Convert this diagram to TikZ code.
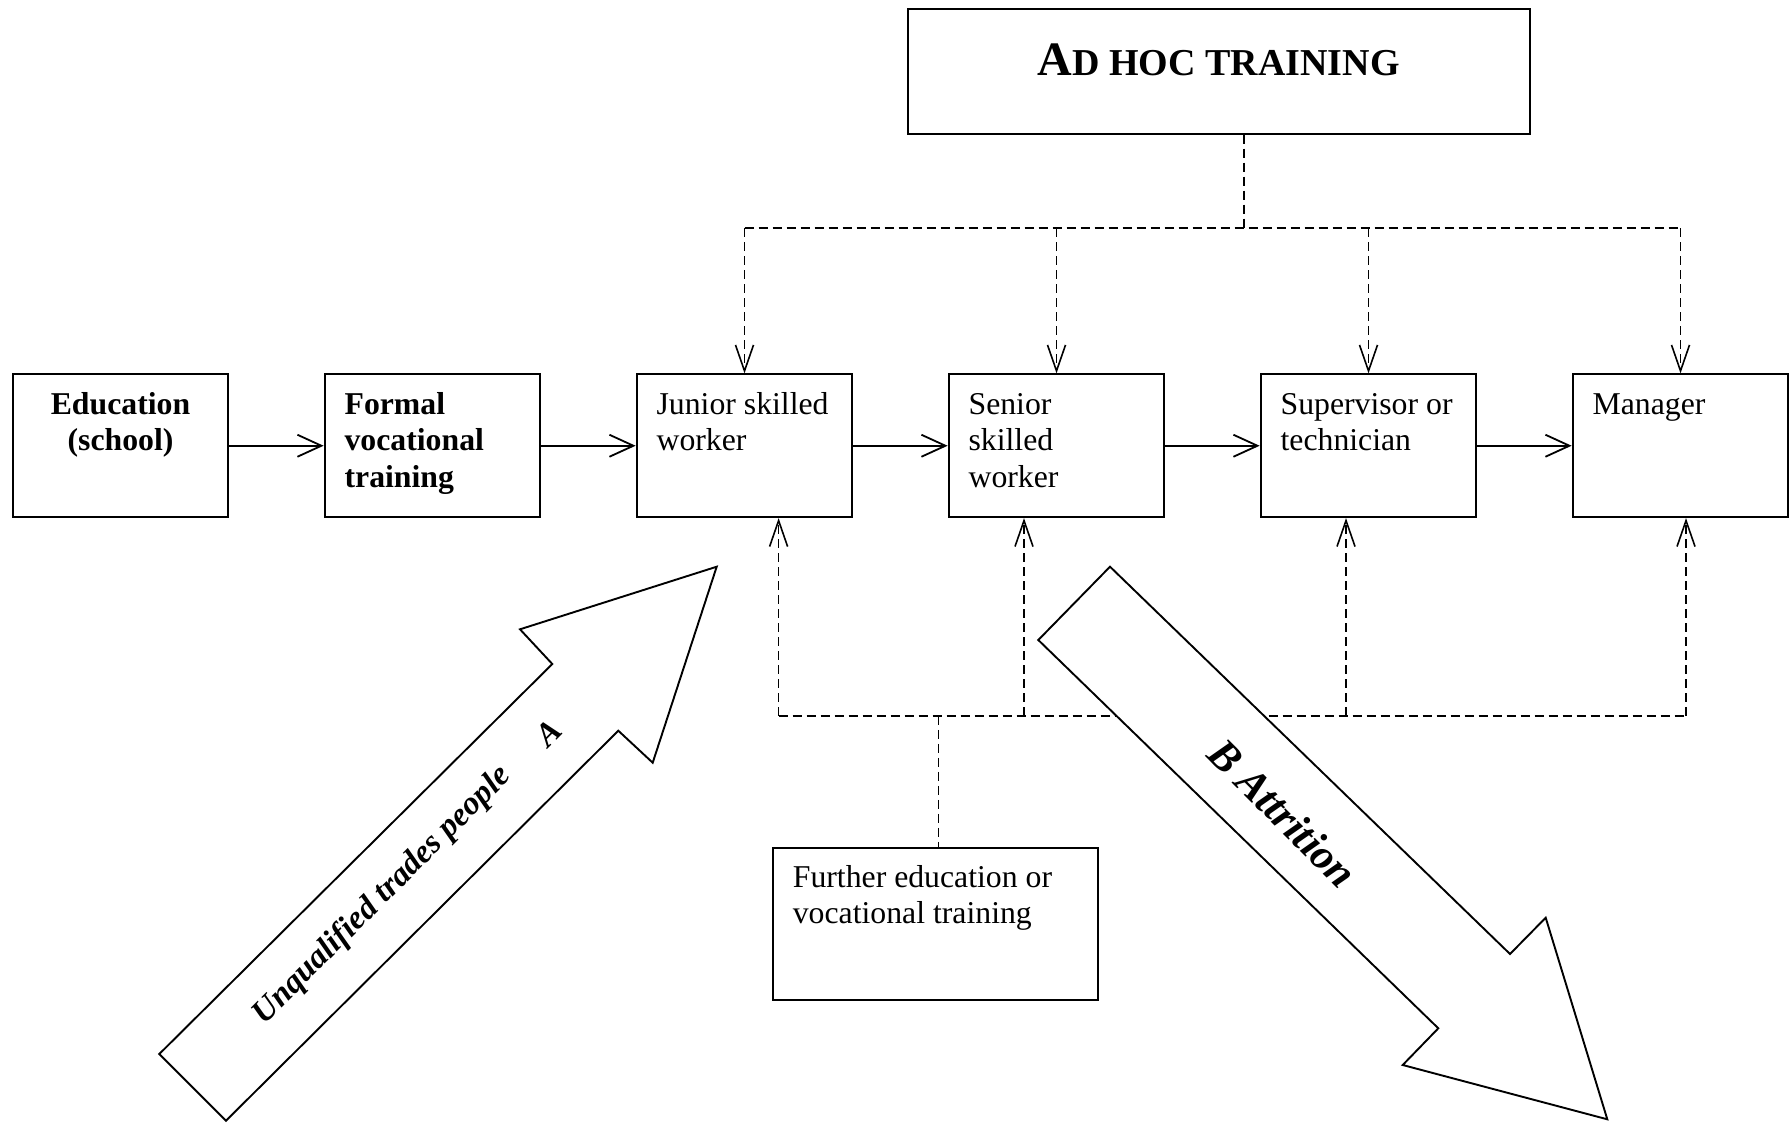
\documentclass[tikz,border=0pt]{standalone}
\usepackage{fontspec}
\setmainfont{Liberation Serif}
\usetikzlibrary{arrows.meta}
\newcommand\boxtext[3]{\parbox[c][#1][t]{#2}{#3}}
\begin{document}
\begin{tikzpicture}[x=1pt,y=-1pt,
  every node/.style={font=\fontsize{31.75pt}{36.5pt}\selectfont},
  box/.style={draw, line width=2pt, inner xsep=20pt, inner ysep=0pt,
    minimum width=215.8pt, minimum height=142.7pt},
  flow/.style={line width=1.8pt, -{Straight Barb[length=24pt,width=22pt,line width=1.8pt]}},
  dline/.style={line width=1.7pt, dash pattern=on 9pt off 5pt},
  dflow/.style={dline, -{Straight Barb[length=26pt,width=18pt,line width=1.6pt]}},
  bigarrow/.style={draw, fill=white, line width=1.9pt, line join=miter},
  arrowtext/.style={font=\fontsize{33pt}{38pt}\selectfont\bfseries\itshape, inner sep=0pt}
]
\useasboundingbox (0,0) rectangle (1790,1123);

% top box
\node[draw, line width=2pt, minimum width=622.2pt, minimum height=124.5pt, inner sep=0pt] (adhoc) at (1218.7,71.4) {};
\node[anchor=base, inner sep=0pt, font=\bfseries] (adhoctext) at (1218.7,76) {{\fontsize{48pt}{56pt}\selectfont A}{\fontsize{38pt}{44pt}\selectfont D HOC TRAINING}};

% row of boxes
\node[box] (edu) at (120.5,445.75) {\boxtext{142.7pt}{175.8pt}{\centering\bfseries\rule{0pt}{40pt}Education\\(school)}};
\node[box] (formal) at (432.5,445.75) {\boxtext{142.7pt}{175.8pt}{\raggedright\bfseries\rule{0pt}{40pt}Formal\\vocational\\training}};
\node[box] (junior) at (744.5,445.75) {\boxtext{142.7pt}{175.8pt}{\raggedright\rule{0pt}{40pt}Junior skilled\\worker}};
\node[box] (senior) at (1056.5,445.75) {\boxtext{142.7pt}{175.8pt}{\raggedright\rule{0pt}{40pt}Senior\\skilled\\worker}};
\node[box] (super) at (1368.5,445.75) {\boxtext{142.7pt}{175.8pt}{\raggedright\rule{0pt}{40pt}Supervisor or\\technician}};
\node[box] (manager) at (1680.5,445.75) {\boxtext{142.7pt}{175.8pt}{\raggedright\rule{0pt}{40pt}Manager}};

% further education box
\node[box, minimum width=325.3pt, minimum height=151.8pt] (further) at (935.5,924.1)
  {\boxtext{151.8pt}{285.3pt}{\raggedright\rule{0pt}{39pt}Further education or\\vocational training}};

% solid flow arrows
\draw[flow] (edu) -- (formal);
\draw[flow] (formal) -- (junior);
\draw[flow] (junior) -- (senior);
\draw[flow] (senior) -- (super);
\draw[flow] (super) -- (manager);

% ad hoc training dashed connectors
\coordinate (tj) at (1244,228.3);
\draw[dline] (adhoc.south -| tj) -- (tj);
\draw[dline] (junior.north |- tj) -- (manager.north |- tj);
\foreach \n in {junior,senior,super,manager}
  \draw[dflow] (\n.north |- tj) -- (\n.north);

% further education dashed connectors
\coordinate (bj) at (938.4,715.8);
\coordinate (bjun) at (778.6,715.8);
\coordinate (bsen) at (1024,715.8);
\coordinate (bsup) at (1346,715.8);
\coordinate (bman) at (1686,715.8);
\draw[dline] (bj) -- (bj |- further.north);
\draw[dline] (bjun) -- (bman);
\draw[dflow] (bjun) -- (bjun |- junior.south);
\draw[dflow] (bsen) -- (bsen |- senior.south);
\draw[dflow] (bsup) -- (bsup |- super.south);
\draw[dflow] (bman) -- (bman |- manager.south);

% big arrow A
\draw[bigarrow] (159.3,1054) -- (552.3,664) -- (520,629.3) -- (716.7,566.7)
  -- (652.7,762.7) -- (618.3,730.7) -- (226,1120.7) -- cycle;
\node[arrowtext, rotate=45] (atext) at (382.4,895.6) {Unqualified trades people};
\node[arrowtext, rotate=45] (aletter) at (548.3,733.3) {A};

% big arrow B
\draw[bigarrow] (1110,566.7) -- (1038.3,640) -- (1438.3,1028.3) -- (1402.7,1065)
  -- (1607.3,1119.3) -- (1545.7,917.7) -- (1510,954) -- cycle;
\node[arrowtext, rotate=-45, font=\fontsize{43pt}{48pt}\selectfont\bfseries\itshape] (btext) at (1283,813) {B Attrition};
\end{tikzpicture}
\end{document}
